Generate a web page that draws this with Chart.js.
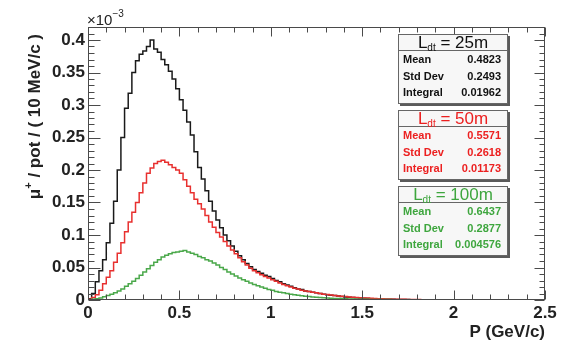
<!DOCTYPE html>
<html>
<head>
<meta charset="utf-8">
<script src="https://cdn.jsdelivr.net/npm/chart.js@4.4.1/dist/chart.umd.min.js"></script>
<style>
  html, body { margin: 0; padding: 0; background: #fff; }
  canvas { display: block; }
</style>
</head>
<body>
<canvas id="muonChart" width="574" height="346"></canvas>
<script>
// bins of 20 MeV/c starting at P = 0, values in units of 1e-3 mu+/pot
const binWidth = 0.02;
const xMax = 2.5;
const yMax = 0.42;

const flux25 = [
  0, 0.002, 0.01, 0.028, 0.045, 0.062, 0.088, 0.118, 0.152, 0.2,
  0.25, 0.295, 0.318, 0.35, 0.368, 0.378, 0.383, 0.39, 0.4, 0.386,
  0.381, 0.37, 0.362, 0.352, 0.34, 0.325, 0.308, 0.292, 0.274, 0.254,
  0.228, 0.204, 0.186, 0.168, 0.152, 0.137, 0.123, 0.111, 0.1, 0.091,
  0.083, 0.075, 0.068, 0.062, 0.056, 0.051, 0.047, 0.044, 0.041, 0.038,
  0.036, 0.033, 0.03, 0.028, 0.025, 0.023, 0.021, 0.019, 0.017, 0.016,
  0.014, 0.013, 0.012, 0.011, 0.01, 0.009, 0.008, 0.0075, 0.0068, 0.006,
  0.0053, 0.0048, 0.0042, 0.0038, 0.0033, 0.003, 0.0027, 0.0024, 0.0021, 0.0019,
  0.0017, 0.0015, 0.0013, 0.0012, 0.001, 0.0009, 0.0008, 0.0007, 0.0006, 0.0005,
  0.0004, 0.0003, 0.0003, 0.0002, 0.0002, 0.0002, 0.0001, 0.0001, 0.0001, 0
];

const flux50 = [
  0, 0.001, 0.004, 0.008, 0.015, 0.025, 0.035, 0.045, 0.058, 0.072,
  0.088, 0.105, 0.12, 0.135, 0.15, 0.165, 0.18, 0.195, 0.203, 0.21,
  0.213, 0.215, 0.212, 0.208, 0.204, 0.2, 0.195, 0.185, 0.175, 0.165,
  0.155, 0.148, 0.14, 0.13, 0.12, 0.112, 0.104, 0.097, 0.09, 0.083,
  0.077, 0.071, 0.065, 0.059, 0.054, 0.049, 0.045, 0.042, 0.039, 0.036,
  0.034, 0.031, 0.029, 0.026, 0.024, 0.022, 0.02, 0.018, 0.017, 0.015,
  0.014, 0.013, 0.012, 0.011, 0.01, 0.009, 0.0083, 0.0076, 0.007, 0.0063,
  0.0057, 0.0052, 0.0047, 0.0043, 0.0039, 0.0035, 0.0032, 0.0029, 0.0026, 0.0023,
  0.0021, 0.0019, 0.0017, 0.0015, 0.0013, 0.0012, 0.0011, 0.001, 0.0009, 0.0008,
  0.0007, 0.0006, 0.0005, 0.0005, 0.0004, 0.0004, 0.0003, 0.0003, 0.0002, 0.0002
];

const flux100 = [
  0, 0, 0.001, 0.002, 0.003, 0.005, 0.007, 0.009, 0.011, 0.014,
  0.017, 0.021, 0.025, 0.029, 0.033, 0.038, 0.043, 0.048, 0.053, 0.058,
  0.062, 0.066, 0.069, 0.071, 0.073, 0.074, 0.075, 0.076, 0.074, 0.072,
  0.07, 0.067, 0.065, 0.062, 0.06, 0.057, 0.054, 0.05, 0.047, 0.043,
  0.04, 0.037, 0.034, 0.031, 0.029, 0.026, 0.024, 0.022, 0.02, 0.018,
  0.016, 0.015, 0.013, 0.012, 0.011, 0.01, 0.009, 0.008, 0.0072, 0.0065,
  0.0058, 0.0052, 0.0047, 0.0042, 0.0038, 0.0034, 0.003, 0.0027, 0.0024, 0.0022,
  0.002, 0.0018, 0.0016, 0.0014, 0.0013, 0.0012, 0.0011, 0.001, 0.0009, 0.0008,
  0.0007, 0.0007, 0.0006, 0.0006, 0.0005, 0.0005, 0.0004, 0.0004, 0.0003, 0.0003,
  0.0003, 0.0002, 0.0002, 0.0002, 0.0001, 0.0001, 0.0001, 0.0001, 0, 0
];

const xTicks = [0, 0.5, 1, 1.5, 2, 2.5];
const yTicks = [0, 0.05, 0.1, 0.15, 0.2, 0.25, 0.3, 0.35, 0.4];

const boxTitles = ['25m', '50m', '100m'];
const statNames = ['Mean', 'Std Dev', 'Integral'];
const statValues = [
  ['0.4823', '0.2493', '0.01962'],
  ['0.5571', '0.2618', '0.01173'],
  ['0.6437', '0.2877', '0.004576']
];
const lineColors = ['#1a1a1a', '#e8302f', '#4aa84a'];
const textColors = ['#111111', '#ec2020', '#3ea63e'];

// histogram -> step points (empty bins up to the axis end)
function toSteps(values) {
  const nBins = Math.round(xMax / binWidth);
  const vals = values.slice();
  while (vals.length < nBins) vals.push(0);
  const pts = vals.map((v, i) => ({ x: i * binWidth, y: v }));
  pts.push({ x: vals.length * binWidth, y: vals[vals.length - 1] });
  return pts;
}

const FONT = '"Liberation Sans", Arial, Helvetica, sans-serif';

const rootFrame = {
  id: 'rootFrame',
  afterDraw(chart) {
    const ctx = chart.ctx;
    const a = chart.chartArea;
    const xs = chart.scales.x, ys = chart.scales.y;
    ctx.save();
    ctx.strokeStyle = '#4a4a4a';
    ctx.lineWidth = 1;
    const L = Math.round(a.left) + 0.5, R = Math.round(a.right) - 0.5;
    const T = Math.round(a.top) + 0.5, B = Math.round(a.bottom) - 0.5;
    ctx.strokeRect(L, T, R - L, B - T);

    ctx.beginPath();
    // y ticks, every 0.01, major at 0.05
    for (let k = 0; k <= Math.floor(yMax * 100 + 1e-6); k++) {
      const py = Math.round(ys.getPixelForValue(k / 100)) + 0.5;
      const major = k % 5 === 0;
      const lenL = major ? 12 : 6;
      const lenR = major ? 10 : 5;
      ctx.moveTo(L, py); ctx.lineTo(L + lenL, py);
      ctx.moveTo(R, py); ctx.lineTo(R - lenR, py);
    }
    // x ticks, every 0.1, major at 0.5
    for (let k = 0; k <= 25; k++) {
      const px = Math.round(xs.getPixelForValue(k / 10)) + 0.5;
      const major = k % 5 === 0;
      const len = major ? 9 : 5;
      ctx.moveTo(px, B); ctx.lineTo(px, B - len);
      ctx.moveTo(px, T); ctx.lineTo(px, T + len);
    }
    ctx.stroke();

    // x10^-3 exponent
    ctx.fillStyle = '#222';
    ctx.textBaseline = 'alphabetic';
    ctx.textAlign = 'left';
    ctx.font = '15px ' + FONT;
    ctx.fillText('\u00d710', 87, 25);
    const w10 = ctx.measureText('\u00d710').width;
    ctx.font = '10px ' + FONT;
    ctx.fillText('\u22123', 87 + w10, 17);

    // y axis title, rotated, aligned to the top end
    ctx.save();
    ctx.translate(35, 34);
    ctx.rotate(-Math.PI / 2);
    ctx.textBaseline = 'middle';
    const big = 'bold 17px ' + FONT, small = 'bold 11px ' + FONT;
    const parts = [['\u03bc', big, 0], ['+', small, -6], [' / pot / ( 10 MeV/c )', big, 0]];
    let total = 0;
    parts.forEach(p => { ctx.font = p[1]; total += ctx.measureText(p[0]).width; });
    let cx = -total;
    parts.forEach(p => {
      ctx.font = p[1];
      ctx.fillText(p[0], cx, p[2]);
      cx += ctx.measureText(p[0]).width;
    });
    ctx.restore();

    // x axis title
    ctx.font = 'bold 17px ' + FONT;
    ctx.textAlign = 'right';
    ctx.textBaseline = 'alphabetic';
    ctx.fillText('P (GeV/c)', a.right, 337);

    // stat boxes
    const boxX = 398, boxW = 110, boxH = 70, titleH = 16;
    const boxY = [34, 110, 186];
    boxTitles.forEach((t, i) => {
      const y = boxY[i];
      ctx.fillStyle = '#5a5a5a';
      ctx.fillRect(boxX + 2, y + 2, boxW, boxH);
      ctx.fillStyle = '#f7f7f7';
      ctx.fillRect(boxX, y, boxW, boxH);
      ctx.strokeStyle = '#666';
      ctx.strokeRect(boxX + 0.5, y + 0.5, boxW - 1, boxH - 1);
      ctx.beginPath();
      ctx.moveTo(boxX, y + titleH + 0.5);
      ctx.lineTo(boxX + boxW, y + titleH + 0.5);
      ctx.stroke();

      // title L_dt = ..
      ctx.fillStyle = textColors[i];
      ctx.textAlign = 'left';
      ctx.textBaseline = 'alphabetic';
      const tFont = '17px ' + FONT, sFont = '10px ' + FONT;
      const rest = ' = ' + t;
      ctx.font = tFont; const wL = ctx.measureText('L').width, wR = ctx.measureText(rest).width;
      ctx.font = sFont; const wS = ctx.measureText('dt').width;
      let tx = boxX + (boxW - (wL + wS + wR)) / 2;
      const base = y + 14;
      ctx.font = tFont; ctx.fillText('L', tx, base); tx += wL;
      ctx.font = sFont; ctx.fillText('dt', tx, base + 3); tx += wS;
      ctx.font = tFont; ctx.fillText(rest, tx, base);

      // rows
      ctx.font = 'bold 11px ' + FONT;
      ctx.textBaseline = 'middle';
      statNames.forEach((n, r) => {
        const ry = y + titleH + 10 + r * 16.5;
        ctx.textAlign = 'left';
        ctx.fillText(n, boxX + 5, ry);
        ctx.textAlign = 'right';
        ctx.fillText(statValues[i][r], boxX + boxW - 7, ry);
      });
    });
    ctx.restore();
  }
};

const ctx = document.getElementById('muonChart').getContext('2d');
const muonChart = new Chart(ctx, {
  type: 'line',
  data: {
    datasets: [
      { label: 'L_dt = 100m', data: toSteps(flux100), borderColor: lineColors[2], order: 1 },
      { label: 'L_dt = 50m', data: toSteps(flux50), borderColor: lineColors[1], order: 2 },
      { label: 'L_dt = 25m', data: toSteps(flux25), borderColor: lineColors[0], order: 3 }
    ].map(d => Object.assign(d, {
      stepped: 'after',
      borderWidth: 1.5,
      pointRadius: 0,
      fill: false,
      tension: 0
    }))
  },
  options: {
    responsive: false,
    animation: false,
    events: [],
    layout: { padding: { left: 0, top: 27, right: 29, bottom: 0 } },
    plugins: { legend: { display: false }, tooltip: { enabled: false } },
    scales: {
      x: {
        type: 'linear',
        min: 0,
        max: xMax,
        grid: { display: false, drawTicks: false },
        border: { display: false },
        afterBuildTicks: s => { s.ticks = xTicks.map(v => ({ value: v })); },
        afterFit: s => { s.height = 46; },
        ticks: {
          autoSkip: false,
          maxRotation: 0,
          padding: 3,
          color: '#222',
          font: { family: FONT, size: 17, weight: 'bold' },
          callback: v => String(v)
        }
      },
      y: {
        min: 0,
        max: yMax,
        grid: { display: false, drawTicks: false },
        border: { display: false },
        afterBuildTicks: s => { s.ticks = yTicks.map(v => ({ value: v })); },
        afterFit: s => { s.width = 88; },
        ticks: {
          autoSkip: false,
          padding: 3,
          color: '#222',
          font: { family: FONT, size: 17, weight: 'bold' },
          callback: v => String(v)
        }
      }
    }
  },
  plugins: [rootFrame]
});
</script>
</body>
</html>
